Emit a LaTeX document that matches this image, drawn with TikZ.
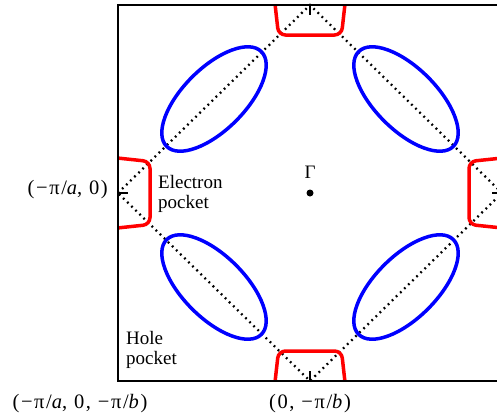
\documentclass[tikz,border=0pt]{standalone}
\usepackage{fontspec}
\setmainfont{Liberation Serif}
\usetikzlibrary{calc}
\begin{document}
\begin{tikzpicture}[x=1pt,y=-1pt,
  zoneline/.style={line width=2.3pt,dash pattern=on 1.8pt off 3.9pt},
  pocketline/.style={line width=3.5pt,red,rounded corners=7pt},
  holeline/.style={line width=3.5pt,blue},
  lbl/.style={font=\fontsize{19}{19.5}\selectfont,inner sep=0pt},
  coordlbl/.style={font=\fontsize{20.5}{21}\selectfont\addfontfeature{LetterSpace=8},inner sep=0pt}]
  \useasboundingbox (0,0) rectangle (497,418);
  \clip (0,0) rectangle (497,418);
  % corners of the zone
  \coordinate (G) at (310,193);
  \coordinate (L) at (118,193);
  \coordinate (T) at (310,5);
  \coordinate (R) at (502,193);
  \coordinate (B) at (310,381);
  \draw[zoneline] (L) -- (T) -- (R) -- (B) -- cycle;
  % electron pockets at the corners
  \begin{scope}
    \clip (118,5) rectangle (502,381);
    \foreach \v/\a/\d in {T/0/30,L/90/32,B/180/30,R/270/33}
    {
      \begin{scope}[shift={(\v)},rotate=\a]
        \draw[pocketline] (-36,-10) -- (-31.5,\d) -- (31.5,\d) -- (36,-10);
        \draw[line width=1.2pt] (0,0) -- (0,10);
      \end{scope}
    }
  \end{scope}
  % hole pockets along the edges
  \coordinate (m1) at ($(L)!0.5!(T)$);
  \coordinate (m2) at ($(T)!0.5!(R)$);
  \coordinate (m3) at ($(L)!0.5!(B)$);
  \coordinate (m4) at ($(B)!0.5!(R)$);
  \draw[holeline,rotate around={45:(m1)}] (m1) ellipse (67 and 31);
  \draw[holeline,rotate around={-45:(m2)}] (m2) ellipse (67 and 31);
  \draw[holeline,rotate around={-45:(m3)}] (m3) ellipse (67 and 31);
  \draw[holeline,rotate around={45:(m4)}] (m4) ellipse (67 and 31);
  \draw[line width=1.5pt] (118,381) -- (118,5) -- (502,5) -- (502,381) -- cycle;
  \fill (G) circle (3.5);
  \node[lbl] (gamma) at (310,172) {Γ};
  \node[lbl,align=left,anchor=west] (elec) at (158,194) {Electron\\pocket};
  \node[lbl,align=left,anchor=west] (hole) at (126,350) {Hole\\pocket};
  \node[coordlbl,anchor=east] (xlab) at (108,190) {(−π/\textit{a}, 0)};
  \node[coordlbl] (blab) at (80,404) {(−π/\textit{a}, 0, −π/\textit{b})};
  \node[coordlbl] (ylab) at (310,404) {(0, −π/\textit{b})};
\end{tikzpicture}
\end{document}
